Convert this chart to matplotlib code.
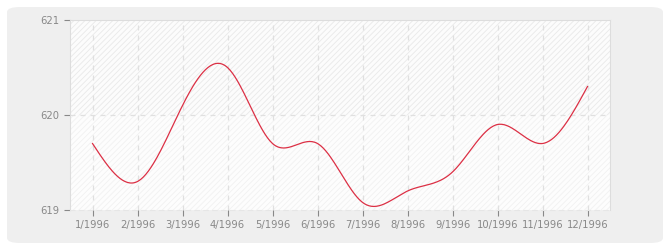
import numpy as np
import matplotlib.pyplot as plt
from matplotlib.patches import FancyBboxPatch, Rectangle

# donnees
mois = list(range(1, 13))
etiquettes = ["1/1996", "2/1996", "3/1996", "4/1996", "5/1996", "6/1996",
              "7/1996", "8/1996", "9/1996", "10/1996", "11/1996", "12/1996"]
valeurs = [619.7, 619.3, 620.1, 620.5, 619.7, 619.7,
           619.08, 619.2, 619.4, 619.9, 619.7, 620.3]
y_ticks = [619, 620, 621]


# spline cubique naturelle pour le trace lisse
def spline(x, y, n=400):
    x = np.asarray(x, float)
    y = np.asarray(y, float)
    k = len(x)
    h = np.diff(x)
    A = np.zeros((k, k))
    r = np.zeros(k)
    A[0, 0] = A[-1, -1] = 1
    for i in range(1, k - 1):
        A[i, i - 1] = h[i - 1]
        A[i, i] = 2 * (h[i - 1] + h[i])
        A[i, i + 1] = h[i]
        r[i] = 6 * ((y[i + 1] - y[i]) / h[i] - (y[i] - y[i - 1]) / h[i - 1])
    M = np.linalg.solve(A, r)
    xs = np.linspace(x[0], x[-1], n)
    j = np.clip(np.searchsorted(x, xs) - 1, 0, k - 2)
    t0 = x[j + 1] - xs
    t1 = xs - x[j]
    hj = h[j]
    ys = (M[j] * t0 ** 3 + M[j + 1] * t1 ** 3) / (6 * hj) \
        + (y[j] / hj - M[j] * hj / 6) * t0 + (y[j + 1] / hj - M[j + 1] * hj / 6) * t1
    return xs, ys


fig = plt.figure(figsize=(6.7, 2.5), dpi=100)
fig.patch.set_facecolor("white")
fond = FancyBboxPatch((7 / 670, 7 / 250), 656 / 670, 236 / 250,
                      boxstyle="round,pad=0,rounding_size=0.02",
                      transform=fig.transFigure, facecolor="#efefef",
                      edgecolor="none", zorder=-10)
fig.add_artist(fond)

ax = fig.add_axes([70 / 670, 40 / 250, 540 / 670, 190 / 250])
ax.set_zorder(5)
ax.set_facecolor("#fdfdfd")
ax.set_xlim(0.5, 12.5)
ax.set_ylim(619, 621)

# fond hachure
plt.rcParams["hatch.linewidth"] = 0.6
ax.add_patch(Rectangle((0.5, 620), 12, 1, facecolor="#fcfcfc", edgecolor="#e9e9e9",
                       hatch="//////", linewidth=0, zorder=0))
ax.add_patch(Rectangle((0.5, 619), 12, 1, facecolor="#fdfdfd", edgecolor="#f1f1f1",
                       hatch="//////", linewidth=0, zorder=0))

for m in mois:
    ax.axvline(m, color="#e0e0e0", linestyle=(0, (4, 4)), linewidth=0.9, zorder=1)
ax.axhline(620, color="#e0e0e0", linestyle=(0, (4, 4)), linewidth=0.9, zorder=1)

xs, ys = spline(mois, valeurs)
ax.plot(xs, ys, color="#dc3045", linewidth=0.9, zorder=3)

ax.set_xticks(mois)
ax.set_xticklabels(etiquettes)
ax.set_yticks(y_ticks)
ax.tick_params(colors="#888888", labelsize=7.2, length=4, width=0.8)
ax.tick_params(axis="x", pad=3)
for s in ["left", "top", "right"]:
    ax.spines[s].set_color("#dddddd")
ax.spines["bottom"].set_color("#e6e6e6")
ax.spines["bottom"].set_linestyle((0, (4, 4)))

plt.savefig("out.png", dpi=100)
